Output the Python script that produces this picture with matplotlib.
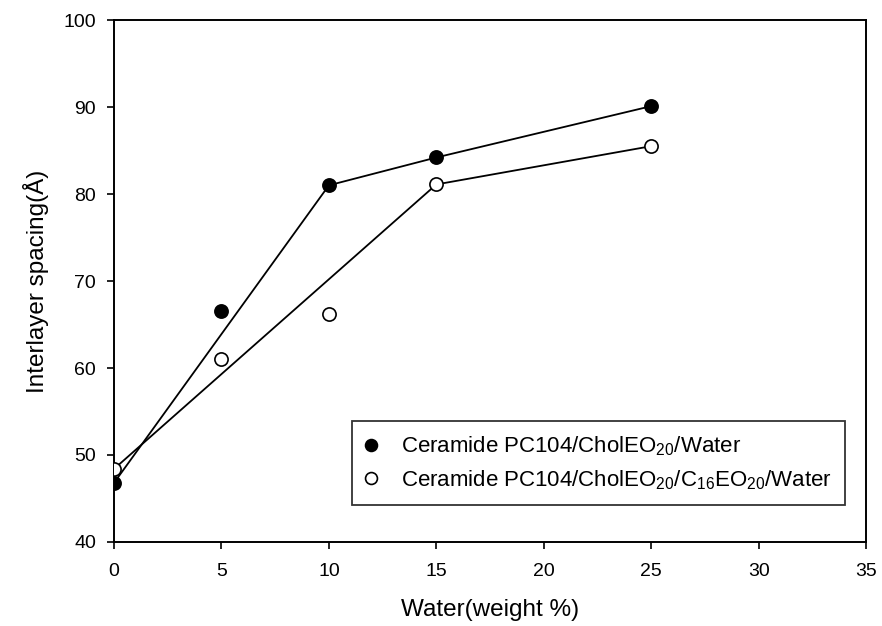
import matplotlib
matplotlib.use('Agg')
import matplotlib.pyplot as plt

plt.rcParams['font.family'] = ['Liberation Sans', 'DejaVu Sans']
plt.rcParams['mathtext.fontset'] = 'custom'
plt.rcParams['mathtext.rm'] = 'Liberation Sans'

# dados
agua = [0, 5, 10, 15, 25]
chol = [46.8, 66.5, 81.0, 84.2, 90.1]
c16 = [48.4, 61.0, 66.2, 81.1, 85.5]

# pontos ligados pelas linhas de tendência
idx_chol = [0, 2, 3, 4]
idx_c16 = [0, 3, 4]

rotulo_chol = r'Ceramide PC104/CholEO$_{\mathregular{20}}$/Water'
rotulo_c16 = r'Ceramide PC104/CholEO$_{\mathregular{20}}$/C$_{\mathregular{16}}$EO$_{\mathregular{20}}$/Water'

fig = plt.figure(figsize=(8.82, 6.26), dpi=100)
ax = fig.add_axes([0.1293, 0.1342, 0.8526, 0.8338])

ax.plot([agua[i] for i in idx_chol], [chol[i] for i in idx_chol], color='black', lw=1.3, zorder=2)
ax.plot([agua[i] for i in idx_c16], [c16[i] for i in idx_c16], color='black', lw=1.3, zorder=2)

ax.plot(agua, chol, 'o', ms=9.5, mfc='black', mec='black', mew=1.2, label=rotulo_chol, zorder=3)
ax.plot(agua, c16, 'o', ms=9.5, mfc='white', mec='black', mew=1.2, label=rotulo_c16, zorder=3)

ax.set_xlim(0, 35)
ax.set_ylim(40, 100)
ax.set_xticks(range(0, 36, 5))
ax.set_yticks(range(40, 101, 10))
ax.tick_params(direction='out', length=5, width=1.2, labelsize=14)
ax.tick_params(axis='x', pad=10)
ax.tick_params(axis='y', pad=8)
for s in ax.spines.values():
    s.set_linewidth(1.4)

ax.set_xlabel('Water(weight %)', fontsize=17.5, labelpad=14)
ax.set_ylabel('Interlayer spacing(Å)', fontsize=17.5, labelpad=10)

leg = ax.legend(loc='lower right', bbox_to_anchor=(0.972, 0.071), fontsize=16,
                markerscale=0.9, frameon=True, fancybox=False, edgecolor='black',
                handlelength=0.5, handletextpad=1.1, borderpad=0.6, labelspacing=0.45,
                borderaxespad=0)
leg.get_frame().set_linewidth(1.3)

fig.savefig('out.png', dpi=100)
